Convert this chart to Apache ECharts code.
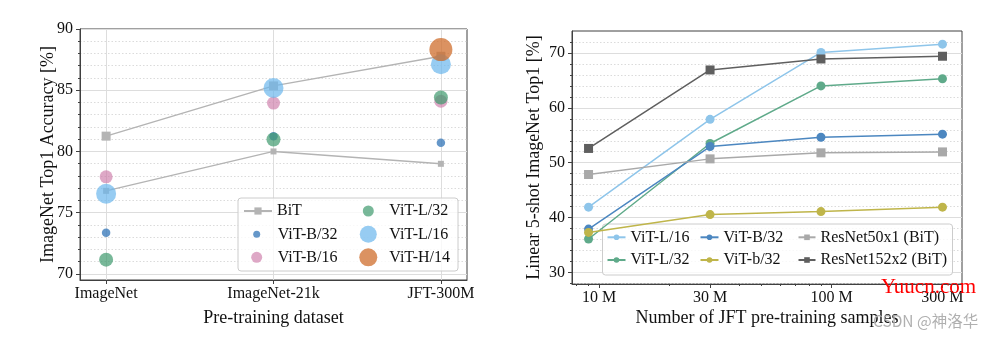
<!DOCTYPE html>
<html>
<head>
<meta charset="utf-8">
<script src="https://cdn.jsdelivr.net/npm/echarts@6/dist/echarts.min.js"></script>
<style>
html,body{margin:0;padding:0;background:#fff;}
#chart{width:992px;height:340px;}
</style>
</head>
<body>
<div id="chart"></div>
<script>
// ---------- Left chart data ----------
const datasets = ['ImageNet', 'ImageNet-21k', 'JFT-300M'];
const bitUpper = [81.25, 85.35, 87.77];
const bitLower = [76.78, 80.0, 78.99];
const vitB32 = [73.35, 81.25, 80.7];
const vitB16 = [77.93, 83.95, 84.1];
const vitL32 = [71.16, 80.98, 84.4];
const vitL16 = [76.54, 85.18, 87.12];
const vitH14 = [null, null, 88.32];
const leftYTicks = [70, 75, 80, 85, 90];

// ---------- Right chart data ----------
const samples = [9e6, 30e6, 90e6, 300e6];
const rVitL16 = [41.9, 57.9, 70.1, 71.6];
const rVitB32 = [37.9, 52.95, 54.65, 55.2];
const rVitL32 = [36.1, 53.5, 64.0, 65.3];
const rVitb32 = [37.3, 40.55, 41.1, 41.9];
const rRes50 = [47.85, 50.7, 51.8, 51.97];
const rRes152 = [52.6, 66.9, 68.9, 69.4];
const sampleTicks = [1e7, 3e7, 1e8, 3e8];
const sampleTickLabels = ['10 M', '30 M', '100 M', '300 M'];
const sampleMinorTicks = [8e6, 9e6, 2e7, 4e7, 5e7, 6e7, 7e7, 8e7, 9e7, 2e8];
const rightYTicks = [30, 40, 50, 60, 70];

const FONT = 'Liberation Serif';
const FRAME = '#404040';
const GRID_SOLID = '#dddddd';
const GRID_DOT = '#d2d2d2';

const chart = echarts.init(document.getElementById('chart'), null, {renderer: 'canvas'});

function pairs(xs, ys) { return xs.map((x, i) => [x, ys[i]]); }
const idx = datasets.map((d, i) => i);

function scatter(name, ys, size, color, op) {
  return {
    name, type: 'scatter', xAxisIndex: 0, yAxisIndex: 0,
    data: pairs(idx, ys).filter(p => p[1] != null),
    symbol: 'circle', symbolSize: size,
    itemStyle: {color, opacity: op},
    z: 3
  };
}
function rline(name, ys, color, symbol) {
  return {
    name, type: 'line', xAxisIndex: 1, yAxisIndex: 1,
    data: pairs(samples, ys),
    symbol, symbolSize: 9, showSymbol: true,
    lineStyle: {color, width: 1.5},
    itemStyle: {color},
    z: 3
  };
}

const baseAxisText = {fontFamily: FONT, fontSize: 16, color: '#111'};
const nameText = {fontFamily: FONT, fontSize: 18, color: '#111'};

const option = {
  animation: false,
  backgroundColor: '#fff',
  grid: [
    {left: 80, top: 29, width: 387, height: 251, show: true, borderColor: FRAME, borderWidth: 1, backgroundColor: 'transparent'},
    {left: 572, top: 31, width: 390, height: 253, show: true, borderColor: FRAME, borderWidth: 1, backgroundColor: 'transparent'}
  ],
  xAxis: [
    {
      gridIndex: 0, type: 'value', min: -0.156, max: 2.156,
      name: 'Pre-training dataset', nameLocation: 'middle', nameGap: 29, nameMoveOverlap: false,
      nameTextStyle: nameText,
      axisLine: {show: true, onZero: false, lineStyle: {color: FRAME}},
      axisTick: {show: true, length: 4, lineStyle: {color: FRAME}, customValues: idx},
      axisLabel: Object.assign({margin: 6, customValues: idx, formatter: v => datasets[Math.round(v)]}, baseAxisText),
      splitLine: {show: true, lineStyle: {color: GRID_SOLID, width: 1}}
    },
    {
      gridIndex: 1, type: 'log', logBase: 10, min: 7.64e6, max: 3.64e8,
      name: 'Number of JFT pre-training samples', nameLocation: 'middle', nameGap: 25, nameMoveOverlap: false,
      nameTextStyle: nameText,
      axisLine: {show: true, onZero: false, lineStyle: {color: FRAME}},
      axisTick: {show: true, length: 4, lineStyle: {color: FRAME}, customValues: sampleTicks},
      axisLabel: Object.assign({margin: 6, customValues: sampleTicks, formatter: v => {
        let best = 0;
        sampleTicks.forEach((t, i) => { if (Math.abs(Math.log(t) - Math.log(v)) < Math.abs(Math.log(sampleTicks[best]) - Math.log(v))) best = i; });
        return sampleTickLabels[best];
      }}, baseAxisText),
      splitLine: {show: false}
    },
    {
      gridIndex: 1, type: 'log', logBase: 10, min: 7.64e6, max: 3.64e8, position: 'bottom',
      axisLine: {show: false, onZero: false},
      axisTick: {show: true, length: 2, lineStyle: {color: FRAME}, customValues: sampleMinorTicks},
      axisLabel: {show: false},
      splitLine: {show: false}
    }
  ],
  yAxis: [
    {
      gridIndex: 0, type: 'value', min: 69.5, max: 90, splitNumber: 4,
      name: 'ImageNet Top1 Accuracy [%]', nameLocation: 'middle', nameGap: 23, nameRotate: 90, nameMoveOverlap: false,
      nameTextStyle: nameText,
      axisLine: {show: true, onZero: false, lineStyle: {color: FRAME}},
      axisTick: {show: true, length: 4, lineStyle: {color: FRAME}, customValues: leftYTicks},
      axisLabel: Object.assign({margin: 7, customValues: leftYTicks}, baseAxisText),
      minorTick: {show: true, splitNumber: 5, length: 2, lineStyle: {color: FRAME}},
      splitLine: {show: true, lineStyle: {color: GRID_SOLID, width: 1}},
      minorSplitLine: {show: true, lineStyle: {color: GRID_DOT, width: 0.8, type: [1.5, 2]}}
    },
    {
      gridIndex: 1, type: 'value', min: 27.9, max: 74, splitNumber: 5,
      name: 'Linear 5-shot ImageNet Top1 [%]', nameLocation: 'middle', nameGap: 29, nameRotate: 90, nameMoveOverlap: false,
      nameTextStyle: nameText,
      axisLine: {show: true, onZero: false, lineStyle: {color: FRAME}},
      axisTick: {show: true, length: 4, lineStyle: {color: FRAME}, customValues: rightYTicks},
      axisLabel: Object.assign({margin: 7, customValues: rightYTicks}, baseAxisText),
      minorTick: {show: true, splitNumber: 5, length: 2, lineStyle: {color: FRAME}},
      splitLine: {show: true, lineStyle: {color: GRID_SOLID, width: 1}},
      minorSplitLine: {show: true, lineStyle: {color: GRID_DOT, width: 0.8, type: [1.5, 2]}}
    }
  ],
  series: [
    // BiT band (fill between lower and upper)
    {
      name: 'bandBase', type: 'line', xAxisIndex: 0, yAxisIndex: 0, stack: 'band',
      data: pairs(idx, bitLower), symbol: 'none', lineStyle: {opacity: 0}, silent: true, z: 1
    },
    {
      name: 'bandFill', type: 'line', xAxisIndex: 0, yAxisIndex: 0, stack: 'band',
      data: pairs(idx, bitUpper.map((u, i) => u - bitLower[i])), symbol: 'none',
      lineStyle: {opacity: 0}, areaStyle: {color: 'rgba(180,180,180,0.18)'}, silent: true, z: 1
    },
    {
      name: 'BiT', type: 'line', xAxisIndex: 0, yAxisIndex: 0,
      data: pairs(idx, bitUpper), symbol: 'rect', symbolSize: 9,
      lineStyle: {color: '#b4b4b4', width: 1.4}, itemStyle: {color: '#b4b4b4'}, z: 2
    },
    {
      name: 'BiT', type: 'line', xAxisIndex: 0, yAxisIndex: 0,
      data: pairs(idx, bitLower), symbol: 'rect', symbolSize: 6,
      lineStyle: {color: '#b4b4b4', width: 1.4}, itemStyle: {color: '#b4b4b4'}, z: 2
    },
    scatter('ViT-B/32', vitB32, 8.5, '#3f7dbc', 0.8),
    scatter('ViT-B/16', vitB16, 13, '#cc79a7', 0.65),
    scatter('ViT-L/32', vitL32, 14, '#3f9a6e', 0.7),
    scatter('ViT-L/16', vitL16, 20, '#6bb6ec', 0.7),
    scatter('ViT-H/14', vitH14, 23, '#cf6d2c', 0.75),
    // right chart
    rline('r:ViT-L/16', rVitL16, '#8ec5ea', 'circle'),
    rline('r:ViT-L/32', rVitL32, '#5faa8a', 'circle'),
    rline('r:ViT-B/32', rVitB32, '#4c87c0', 'circle'),
    rline('r:ViT-b/32', rVitb32, '#bfb54a', 'circle'),
    rline('r:ResNet50x1 (BiT)', rRes50, '#a9a9a9', 'rect'),
    rline('r:ResNet152x2 (BiT)', rRes152, '#5f5f5f', 'rect')
  ],
  graphic: [
    {type: 'rect', z: 3, shape: {x: 238, y: 198, width: 220, height: 73, r: 3},
     style: {fill: 'rgba(255,255,255,0.8)', stroke: '#cccccc', lineWidth: 1}},
    {type: 'rect', z: 3, shape: {x: 602.5, y: 224, width: 350, height: 51, r: 3},
     style: {fill: 'rgba(255,255,255,0.8)', stroke: '#cccccc', lineWidth: 1}},
    {type: 'text', z: 10, left: 881, top: 277,
     style: {text: 'Yuucn.com', font: '21px "Liberation Serif"', fill: '#ff0000'}},
    {type: 'text', z: 10, left: 873, top: 313,
     style: {text: 'CSDN @神洛华', font: '15.5px "Noto Sans CJK SC"', fill: '#b0b0b0'}}
  ]
};

// legends: one component per entry so each keeps its own marker size
// line icons: bounding box = full item width; circle icons: bounding box = circle only
function lgLine(name, left, centerY, w, h) {
  const hh = Math.max(h, 16);
  return {
    data: [name], left, top: centerY - hh / 2, padding: 0, itemWidth: w, itemHeight: h,
    selectedMode: false, z: 5,
    formatter: n => n.replace(/^r:/, ''),
    textStyle: {fontFamily: FONT, fontSize: 16, color: '#111'}
  };
}
function lgDot(name, centerX, centerY, d) {
  const o = lgLine(name, centerX - d / 2, centerY, 32, d);
  return o;
}
option.legend = [
  lgLine('BiT', 243, 211, 28, 9),
  lgDot('ViT-B/32', 256.7, 234.3, 7),
  lgDot('ViT-B/16', 256.7, 257.3, 11),
  lgDot('ViT-L/32', 368.3, 211, 11),
  lgDot('ViT-L/16', 368.3, 234.3, 17),
  lgDot('ViT-H/14', 368.3, 257.3, 18),
  lgLine('r:ViT-L/16', 606.5, 237.3, 18, 7),
  lgLine('r:ViT-L/32', 606.5, 260, 18, 7),
  lgLine('r:ViT-B/32', 699.5, 237.3, 18, 7),
  lgLine('r:ViT-b/32', 699.5, 260, 18, 7),
  lgLine('r:ResNet50x1 (BiT)', 797.5, 237.3, 17, 7),
  lgLine('r:ResNet152x2 (BiT)', 797.5, 260, 17, 7)
];

chart.setOption(option);
</script>
</body>
</html>
